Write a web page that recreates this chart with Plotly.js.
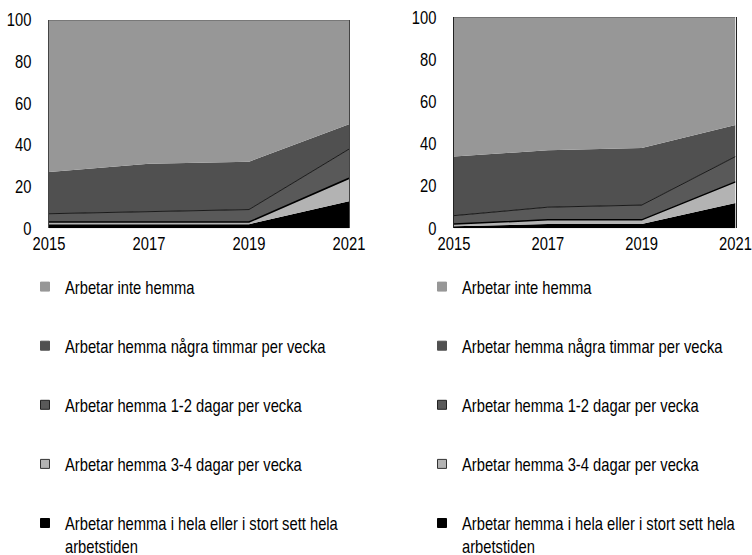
<!DOCTYPE html>
<html>
<head>
<meta charset="utf-8">
<script src="https://cdn.plot.ly/plotly-3.0.1.min.js"></script>
<style>
html,body{margin:0;padding:0;background:#fff}
#chart{width:752px;height:555px}
</style>
</head>
<body>
<div id="chart"></div>
<script>
const years = [2015, 2017, 2019, 2021];
const categories = [
  "Arbetar hemma i hela eller i stort sett hela<br>arbetstiden",
  "Arbetar hemma 3-4 dagar per vecka",
  "Arbetar hemma 1-2 dagar per vecka",
  "Arbetar hemma några timmar per vecka",
  "Arbetar inte hemma"
];
// left panel
const leftHela   = [2, 2, 2, 13];
const left34     = [1, 1, 1, 11];
const left12     = [4, 5, 6, 14];
const leftTimmar = [20, 23, 23, 12];
const leftInte   = [73, 69, 68, 50];
// right panel
const rightHela   = [1, 2, 2, 12];
const right34     = [1, 2, 2, 10];
const right12     = [4, 6, 7, 12];
const rightTimmar = [28, 27, 27, 15];
const rightInte   = [66, 63, 62, 51];
const yTicks = [0, 20, 40, 60, 80, 100];

const fills = ["#000000", "#b3b3b3", "#595959", "#505050", "#979797"];
const lines = [
  {width: 0, color: "#000"},
  {width: 1.5, color: "#000"},
  {width: 0.8, color: "#000"},
  {width: 0, color: "#000"},
  {width: 1.2, color: "#5a5a5a"}
];
const legendBorder = ["#000", "#333", "#222", "#505050", "#979797"];

const leftSeries = [leftHela, left34, left12, leftTimmar, leftInte];
const rightSeries = [rightHela, right34, right12, rightTimmar, rightInte];

const H = 555, W = 752;
const FS = 18;
const NARROW = 0.82; // horizontal condensing of the text (narrow typeface look)
const FONT = "'Liberation Sans', Arial, sans-serif";

const traces = [];
function addPanel(series, xa, ya, group) {
  series.forEach((vals, i) => {
    traces.push({
      x: years, y: vals, xaxis: xa, yaxis: ya,
      type: "scatter", mode: "lines", stackgroup: group,
      fillcolor: fills[i],
      line: {width: lines[i].width, color: lines[i].color, shape: "linear"},
      name: categories[i], showlegend: false, hoverinfo: "skip"
    });
  });
}
addPanel(leftSeries, "x", "y", "left");
addPanel(rightSeries, "x2", "y2", "right");

function addLegend(legendId) {
  for (let i = categories.length - 1; i >= 0; i--) {
    traces.push({
      x: [null], y: [null], xaxis: "x", yaxis: "y",
      type: "scatter", mode: "markers",
      marker: {symbol: "square", size: 9, color: fills[i], line: {width: 1, color: legendBorder[i]}},
      name: categories[i], legend: legendId, legendgroup: legendId + i, showlegend: true, hoverinfo: "skip"
    });
  }
}
addLegend("legend");
addLegend("legend2");

const itemH = FS * 1.3 + 4;
const axisCommon = {
  showgrid: false, zeroline: false, ticks: "", ticklabeloverflow: "allow",
  tickfont: {family: FONT, size: FS, color: "#000"}
};
const legendCommon = {
  xanchor: "left", yanchor: "top", y: 1 - (288.5 - 6.4 - itemH / 2) / H,
  font: {family: FONT, size: FS, color: "#000"},
  tracegroupgap: 60.1 - itemH, valign: "top", bgcolor: "rgba(0,0,0,0)",
  itemclick: false, itemdoubleclick: false
};

const layout = {
  width: W, height: H,
  margin: {l: 0, r: 0, t: 0, b: 0, autoexpand: false},
  paper_bgcolor: "#fff", plot_bgcolor: "#fff",
  font: {family: FONT, size: FS, color: "#000"},
  showlegend: true,
  xaxis: Object.assign({}, axisCommon, {
    domain: [49 / W, 349 / W], range: [2015, 2021],
    tickvals: years, ticktext: years.map(String), ticklabelstandoff: 3, anchor: "y"
  }),
  yaxis: Object.assign({}, axisCommon, {
    domain: [1 - 228.3 / H, 1 - 20 / H], range: [0, 100],
    tickvals: yTicks, ticklabelstandoff: 13, anchor: "x",
    showline: true, linecolor: "#444", linewidth: 1, mirror: true
  }),
  xaxis2: Object.assign({}, axisCommon, {
    domain: [454 / W, 735.5 / W], range: [2015, 2021],
    tickvals: years, ticktext: years.map(String), ticklabelstandoff: 3, anchor: "y2"
  }),
  yaxis2: Object.assign({}, axisCommon, {
    domain: [1 - 228.3 / H, 1 - 17.3 / H], range: [0, 100],
    tickvals: yTicks, ticklabelstandoff: 13, anchor: "x2",
    showline: true, linecolor: "#222", linewidth: 1, mirror: true
  }),
  legend: Object.assign({}, legendCommon, {x: 25 / W}),
  legend2: Object.assign({}, legendCommon, {x: 422 / W})
};

const gdEl = document.getElementById("chart");
function condense() {
  const sel = gdEl.querySelectorAll("svg text");
  sel.forEach(t => {
    const cur = t.getAttribute("transform") || "";
    if (t.getAttribute("data-cnd") === cur && cur.indexOf("scale(") >= 0) return;
    const x = parseFloat(t.getAttribute("x")) || 0;
    const nt = cur + " translate(" + x + ",0) scale(" + NARROW + ",1) translate(" + (-x) + ",0)";
    t.setAttribute("transform", nt);
    t.setAttribute("data-cnd", nt);
  });
}
const obs = new MutationObserver(() => condense());
obs.observe(gdEl, {subtree: true, childList: true, attributes: true, attributeFilter: ["transform", "x"]});

Plotly.newPlot(gdEl, traces, layout, {staticPlot: true, displayModeBar: false})
  .then(() => { condense(); setTimeout(condense, 0); setTimeout(condense, 100); setTimeout(condense, 400); });
</script>
</body>
</html>
